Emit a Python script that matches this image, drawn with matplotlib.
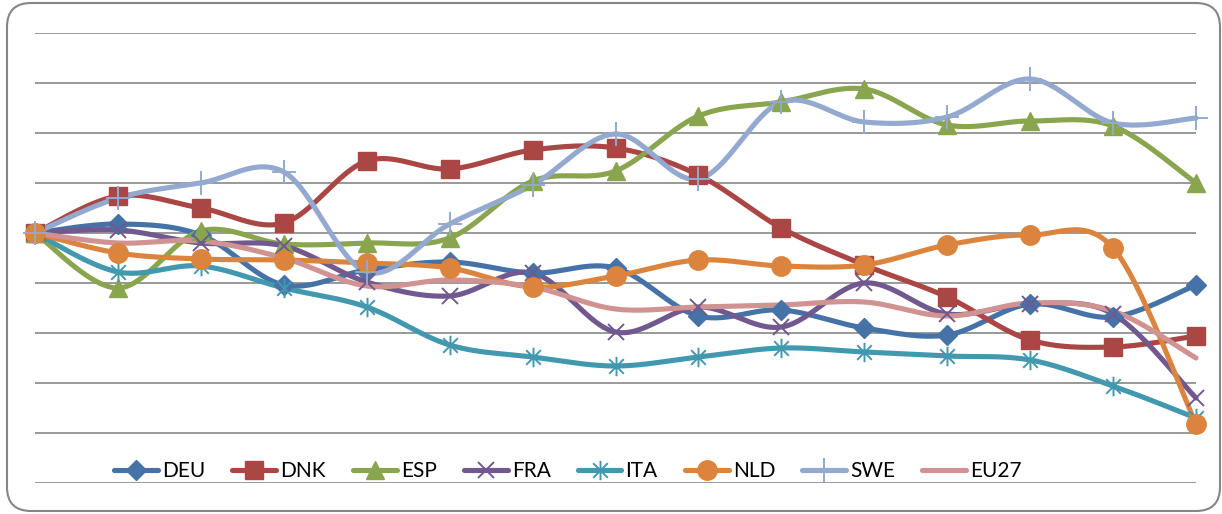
import numpy as np
import matplotlib
matplotlib.use("Agg")
import matplotlib.pyplot as plt
from matplotlib.path import Path
from matplotlib.patches import FancyBboxPatch

plt.rcParams['font.family'] = ['Lato', 'DejaVu Sans']

# Index values (start = 100) for each country over 15 periods
periods = list(range(15))
deu = [100, 101.8, 99.6, 89.6, 92.6, 94.2, 92.0, 93.0, 83.4, 84.6, 81.0, 79.6, 85.8, 83.2, 89.6]
dnk = [100, 107.4, 105.0, 102.0, 114.4, 112.8, 116.6, 117.0, 111.6, 101.0, 93.6, 87.2, 78.6, 77.2, 79.4]
esp = [100, 89.0, 100.4, 97.8, 98.0, 99.0, 110.4, 112.4, 123.4, 126.2, 128.8, 121.6, 122.4, 121.4, 110.0]
fra = [100, 100.6, 98.0, 97.4, 90.2, 87.4, 92.0, 80.2, 85.2, 81.2, 90.0, 83.8, 85.8, 83.8, 67.0]
ita = [100, 92.2, 93.4, 89.0, 85.2, 77.6, 75.2, 73.4, 75.2, 77.0, 76.2, 75.4, 74.6, 69.4, 63.0]
nld = [100, 96.0, 94.8, 94.6, 94.0, 93.0, 89.2, 91.4, 94.6, 93.4, 93.6, 97.6, 99.6, 97.0, 61.8]
swe = [100, 107.0, 110.0, 112.2, 92.2, 101.8, 109.6, 119.8, 110.8, 126.2, 122.2, 123.2, 130.8, 122.0, 123.0]
eu27 = [100, 98.0, 98.4, 95.0, 89.4, 90.6, 89.2, 84.8, 85.2, 85.6, 86.2, 83.4, 86.0, 84.4, 75.0]

labels = ["DEU", "DNK", "ESP", "FRA", "ITA", "NLD", "SWE", "EU27"]
series = [deu, dnk, esp, fra, ita, nld, swe, eu27]
colors = ["#4572A7", "#AA4643", "#89A54E", "#71588F", "#4198AF", "#DB843D", "#93A9CF", "#D19392"]

# asterisk-style marker: vertical stroke plus an X
star = Path([(0, -1), (0, 1), (-0.75, -0.75), (0.75, 0.75), (-0.75, 0.75), (0.75, -0.75)],
            [Path.MOVETO, Path.LINETO, Path.MOVETO, Path.LINETO, Path.MOVETO, Path.LINETO])

marker_styles = [
    dict(marker="D", ms=10),
    dict(marker="s", ms=13),
    dict(marker="^", ms=13),
    dict(marker="x", ms=11, mew=1.4),
    dict(marker=star, ms=14, mew=1.4),
    dict(marker="o", ms=14),
    dict(marker="+", ms=17, mew=1.4),
    dict(marker=None),
]


def smooth(x, y, n=30):
    """Cardinal (Catmull-Rom) Bezier smoothing through every point."""
    x = np.asarray(x, float)
    y = np.asarray(y, float)
    pts = np.column_stack([x, y])
    ext = np.vstack([pts[0], pts, pts[-1]])
    out = []
    t = np.linspace(0, 1, n)[:, None]
    for i in range(len(pts) - 1):
        p0, p3 = ext[i + 1], ext[i + 2]
        p1 = p0 + (ext[i + 2] - ext[i]) / 6.0
        p2 = p3 - (ext[i + 3] - ext[i + 1]) / 6.0
        seg = ((1 - t) ** 3) * p0 + 3 * ((1 - t) ** 2) * t * p1 + 3 * (1 - t) * t ** 2 * p2 + t ** 3 * p3
        out.append(seg if i == 0 else seg[1:])
    out = np.vstack(out)
    return out[:, 0], out[:, 1]


W, H = 1222, 514
fig = plt.figure(figsize=(W / 100, H / 100), dpi=100)
ax = fig.add_axes([35 / W, 1 - 483 / H, (1196 - 35) / W, (483 - 33) / H])

ax.set_xlim(0, 14)
ax.set_ylim(50, 140)
ax.set_yticks(np.arange(50, 141, 10))
ax.yaxis.grid(True, color="#878787", linewidth=1.2)
ax.set_axisbelow(True)
ax.tick_params(left=False, bottom=False, labelleft=False, labelbottom=False)
for s in ax.spines.values():
    s.set_visible(False)

handles = []
for vals, lab, col, ms in zip(series, labels, colors, marker_styles):
    sx, sy = smooth(periods, vals)
    ax.plot(sx, sy, color=col, lw=3.7, solid_capstyle="round", clip_on=False, zorder=2)
    ax.plot(periods, vals, linestyle="none", color=col, mfc=col, mec=col,
            clip_on=False, zorder=3, **ms)
    h, = ax.plot([], [], color=col, lw=3.7, solid_capstyle="round", mfc=col, mec=col, **ms)
    handles.append(h)

fig.legend(handles, labels, loc="center", bbox_to_anchor=(568 / W, 1 - 471 / H),
           ncol=8, frameon=False, fontsize=15, handlelength=2.1, handletextpad=0.2,
           columnspacing=1.3, numpoints=1)

border = FancyBboxPatch((7, 3), 1213, 508, boxstyle="round,pad=0,rounding_size=24",
                        transform=None, facecolor="none", edgecolor="#868686", linewidth=1.5)
fig.patches.append(border)

fig.savefig("out.png", dpi=100)
